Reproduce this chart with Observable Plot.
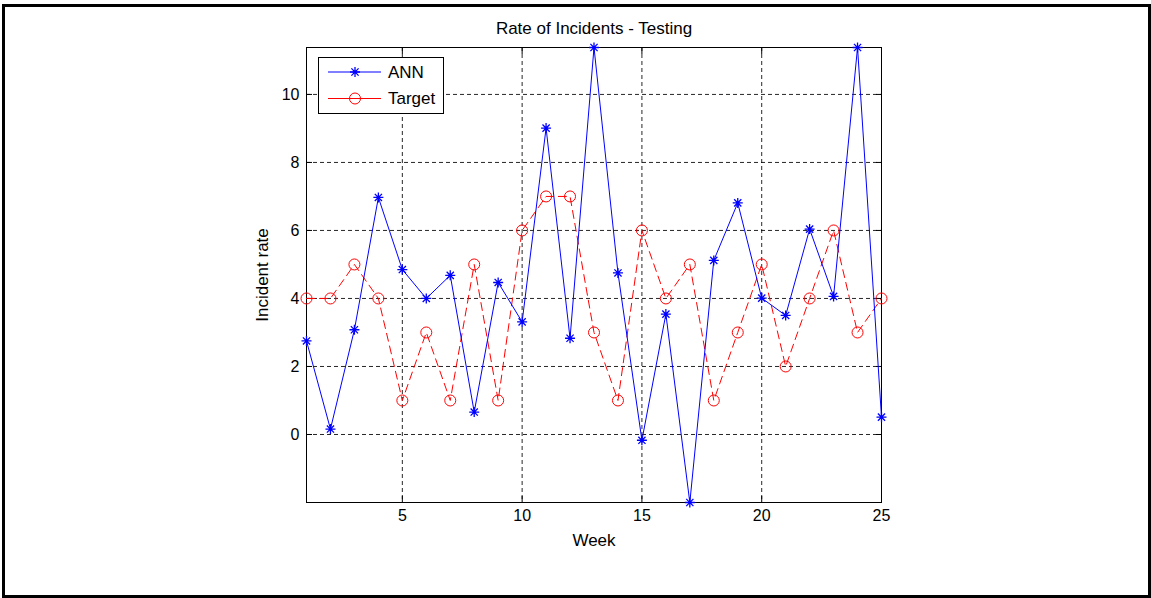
<!DOCTYPE html>
<html>
<head>
<meta charset="utf-8">
<script src="https://cdn.jsdelivr.net/npm/d3@7"></script>
<script src="https://cdn.jsdelivr.net/npm/@observablehq/plot@0.6"></script>
<style>
  html, body { margin: 0; padding: 0; background: #fff; }
  #wrap { position: relative; width: 1151px; height: 598px; overflow: hidden; font-family: "Liberation Sans", Arial, sans-serif; }
  #border { position: absolute; left: 2px; top: 4px; width: 1143px; height: 588px; border: 3px solid #000; box-sizing: content-box; pointer-events: none; }
  #chart { position: absolute; left: 0; top: 0; }
  #legend { position: absolute; left: 318px; top: 57px; }
</style>
</head>
<body>
<div id="wrap">
  <div id="chart"></div>
  <div id="legend"></div>
  <div id="border"></div>
</div>
<script>
// ---- data ----
const weeks = d3.range(1, 26);
const annValues = [2.75, 0.16, 3.08, 6.97, 4.85, 4.0, 4.68, 0.66, 4.47, 3.31,
                   9.01, 2.83, 11.38, 4.75, -0.17, 3.54, -2.0, 5.12, 6.81, 4.01,
                   3.5, 6.04, 4.06, 11.38, 0.51];
const targetValues = [4, 4, 5, 4, 1, 3, 1, 5, 1, 6,
                      7, 7, 3, 1, 6, 4, 5, 1, 3, 5,
                      2, 4, 6, 3, 4];
const xTicks = [5, 10, 15, 20, 25];
const yTicks = [0, 2, 4, 6, 8, 10];
const seriesNames = ["ANN", "Target"];
const titleText = "Rate of Incidents - Testing";
const xLabel = "Week";
const yLabel = "Incident rate";

const annData = weeks.map((w, i) => ({week: w, value: annValues[i]}));
const targetData = weeks.map((w, i) => ({week: w, value: targetValues[i]}));
const yDomain = d3.extent([...annValues, ...targetValues]);

// MATLAB-style '*' marker (plus + cross)
const starSymbol = {
  draw(context, size) {
    const r = Math.sqrt(size / Math.PI);
    const d = r * 0.72;
    context.moveTo(-r, 0); context.lineTo(r, 0);
    context.moveTo(0, -r); context.lineTo(0, r);
    context.moveTo(-d, -d); context.lineTo(d, d);
    context.moveTo(-d, d); context.lineTo(d, -d);
  }
};

const fontFamily = "'Liberation Sans', Arial, sans-serif";
const gridStyle = {stroke: "#000", strokeOpacity: 0.85, strokeDasharray: "4,3", strokeWidth: 1};

const chart = Plot.plot({
  width: 1151,
  height: 598,
  marginTop: 47,
  marginRight: 270,
  marginBottom: 96,
  marginLeft: 306,
  style: {fontFamily, fontSize: "16px", background: "transparent", color: "#000"},
  x: {domain: [1, 25]},
  y: {domain: yDomain},
  marks: [
    Plot.gridY(yTicks, gridStyle),
    Plot.gridX(xTicks, gridStyle),
    Plot.axisY(yTicks, {anchor: "left", tickSize: 0, tickPadding: 7, label: null, fontSize: 16}),
    Plot.axisX(xTicks, {anchor: "bottom", tickSize: 0, tickPadding: 7, label: null, fontSize: 16}),
    Plot.axisY(yTicks, {anchor: "left", tickSize: -6, tickFormat: () => "", label: null}),
    Plot.axisY(yTicks, {anchor: "right", tickSize: -6, tickFormat: () => "", label: null}),
    Plot.axisX(xTicks, {anchor: "bottom", tickSize: -6, tickFormat: () => "", label: null}),
    Plot.axisX(xTicks, {anchor: "top", tickSize: -6, tickFormat: () => "", label: null}),
    Plot.frame({stroke: "#000", strokeWidth: 1}),
    Plot.line(targetData, {x: "week", y: "value", stroke: "#ff0000", strokeWidth: 1, strokeDasharray: "8,5"}),
    Plot.dot(targetData, {x: "week", y: "value", r: 5.5, stroke: "#ff0000", fill: "none", strokeWidth: 1}),
    Plot.line(annData, {x: "week", y: "value", stroke: "#0000ff", strokeWidth: 1}),
    Plot.dot(annData, {x: "week", y: "value", r: 5, symbol: starSymbol, stroke: "#0000ff", fill: "none", strokeWidth: 1.3}),
    Plot.text([titleText], {frameAnchor: "top", lineAnchor: "middle", textAnchor: "middle", dy: -19, fontSize: 17, fill: "#000"}),
    Plot.text([xLabel], {frameAnchor: "bottom", lineAnchor: "middle", textAnchor: "middle", dy: 38, fontSize: 17, fill: "#000"}),
    Plot.text([yLabel], {frameAnchor: "left", lineAnchor: "middle", textAnchor: "middle", dx: -44, rotate: -90, fontSize: 17, fill: "#000"})
  ]
});
document.getElementById("chart").appendChild(chart);

// ---- legend ----
const lw = 126, lh = 57;
const leg = d3.select("#legend").append("svg")
  .attr("width", lw).attr("height", lh)
  .style("font-family", fontFamily).style("font-size", "17px");
leg.append("rect").attr("x", 0.5).attr("y", 0.5).attr("width", lw - 1).attr("height", lh - 1)
  .attr("fill", "#fff").attr("stroke", "#000");
const legendItems = [
  {name: seriesNames[0], color: "#0000ff", marker: "star"},
  {name: seriesNames[1], color: "#ff0000", marker: "circle"}
];
legendItems.forEach((it, i) => {
  const cy = 15 + i * 26.5;
  leg.append("line").attr("x1", 10).attr("x2", 63).attr("y1", cy).attr("y2", cy)
    .attr("stroke", it.color).attr("stroke-width", 1);
  if (it.marker === "circle") {
    leg.append("circle").attr("cx", 37).attr("cy", cy).attr("r", 5.5)
      .attr("fill", "none").attr("stroke", it.color);
  } else {
    leg.append("path").attr("transform", `translate(37,${cy})`)
      .attr("d", d3.symbol(starSymbol, 25 * Math.PI)())
      .attr("fill", "none").attr("stroke", it.color).attr("stroke-width", 1.3);
  }
  leg.append("text").attr("x", 70).attr("y", cy).attr("dy", "0.35em")
    .attr("fill", "#000").text(it.name);
});
</script>
</body>
</html>
